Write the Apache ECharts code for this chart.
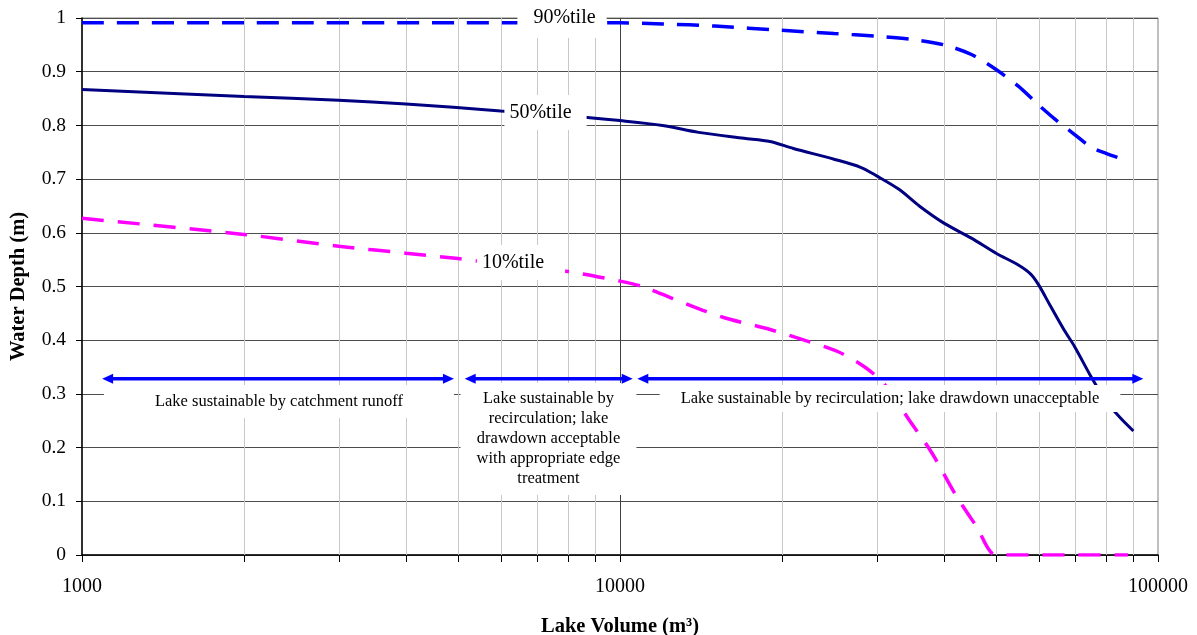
<!DOCTYPE html>
<html><head><meta charset="utf-8">
<script src="https://cdn.jsdelivr.net/npm/echarts@6/dist/echarts.min.js"></script>
<style>html,body{margin:0;padding:0;background:#fff}#c{width:1197px;height:635px}</style>
</head><body><div id="c"></div>
<script>
// ---- data ----
const xMajorTicks = [1000, 10000, 100000];
const xGridValues = [2000,3000,4000,5000,6000,7000,8000,9000,10000,20000,30000,40000,50000,60000,70000,80000,90000];
const yTickLabels = ['0','0.1','0.2','0.3','0.4','0.5','0.6','0.7','0.8','0.9','1'];

const vol90   = [1000,2000,5000,10000,12000,15000,20000,25000,30000,35000,40000,45000,50000,55000,60000,65000,70000,75000,80000,88000];
const depth90 = [0.991,0.991,0.991,0.991,0.989,0.985,0.977,0.971,0.966,0.960,0.950,0.932,0.904,0.873,0.838,0.808,0.783,0.760,0.748,0.734];

const vol50   = [1000,2000,3000,4000,6000,8000,10000,12000,14000,17000,19000,21000,25000,28000,30000,33000,36000,40000,45000,50000,55000,58000,60000,63000,67000,70000,75000,80000,85000,90000];
const depth50 = [0.867,0.854,0.847,0.840,0.827,0.818,0.809,0.800,0.787,0.776,0.770,0.757,0.737,0.722,0.706,0.681,0.650,0.618,0.590,0.562,0.540,0.523,0.503,0.465,0.418,0.388,0.333,0.287,0.256,0.231];

const vol10   = [1000,2000,3000,4000,5000,6000,8000,10000,11000,12500,14500,16000,19000,22000,25500,28500,31000,34500,38000,42000,46000,50000,60000,70000,88000];
const depth10 = [0.627,0.597,0.575,0.562,0.552,0.542,0.528,0.510,0.500,0.478,0.453,0.439,0.420,0.400,0.378,0.350,0.318,0.251,0.190,0.113,0.053,0,0,0,0];

const curveLabelText = ['90%tile','50%tile','10%tile'];
const curveLabelVol  = [7802, 7270, 6546];
const curveLabelDepth= [1.0, 0.824, 0.5447];

const zoneText = ['Lake sustainable by catchment runoff',
  'Lake sustainable by\nrecirculation; lake\ndrawdown acceptable\nwith appropriate edge\ntreatment',
  'Lake sustainable by recirculation; lake drawdown unacceptable'];
const zoneVol   = [2323, 7364, 31760];
const zoneDepth = [0.2858, 0.216, 0.2914];

const arrowFromVol = [1090, 5144, 10770];
const arrowToVol   = [4913, 10560, 93900];
const arrowDepth   = 0.328;

// ---- styles ----
const FONT = '"Liberation Serif", "Times New Roman", serif';
const curveLabelPad = [[8,11,8,16],[5,15,6,5],[5,21,6,5]];
const zonePad = [[3,51,10,51],[5,16,7,16],[3,21,4,21]];

const zip = (a,b) => a.map((v,i)=>[v,b[i]]);

const chart = echarts.init(document.getElementById('c'), null, {renderer:'canvas'});

function textItem(txt, pad, size, lh){
  return function(params, api){
    const i = params.dataIndex;
    const p = api.coord([api.value(0), api.value(1)]);
    return {type:'text', x:p[0], y:p[1], z2:10,
      style:{text:txt[i], font: size + 'px ' + FONT, fill:'#000',
        align:'center', verticalAlign:'middle', textAlign:'center', textVerticalAlign:'middle',
        lineHeight: lh, backgroundColor:'#fff', padding: pad[i]}};
  };
}

const option = {
  animation:false,
  backgroundColor:'#fff',
  grid:{left:82, right:39, top:18, bottom:80, show:true, borderColor:'#808080', borderWidth:1, backgroundColor:'transparent', outerBoundsMode:'none'},
  xAxis:{type:'log', logBase:10, min:xMajorTicks[0], max:xMajorTicks[xMajorTicks.length-1],
    axisLine:{show:true, lineStyle:{color:'#000', width:1.5}},
    axisTick:{show:true, length:7, lineStyle:{color:'#000', width:1}},
    axisLabel:{fontFamily:FONT, fontSize:20, color:'#000', margin:22, formatter: v => String(v)},
    splitLine:{show:false},
    name:'Lake Volume (m³)', nameLocation:'middle', nameGap:61,
    nameTextStyle:{fontFamily:FONT, fontWeight:'bold', fontSize:20.5, color:'#000'}},
  yAxis:{type:'value', min:0, max:1, interval:0.1,
    axisLine:{show:true, lineStyle:{color:'#000', width:1.5}},
    axisTick:{show:true, length:6, lineStyle:{color:'#000'}},
    axisLabel:{fontFamily:FONT, fontSize:19.5, color:'#000', margin:16,
      formatter:(v)=> yTickLabels[Math.round(v*10)]},
    splitLine:{show:true, lineStyle:{color:'#4d4d4d', width:1}},
    name:'Water Depth (m)', nameLocation:'middle', nameGap:53, nameRotate:90,
    nameTextStyle:{fontFamily:FONT, fontWeight:'bold', fontSize:20.5, color:'#000'}},
  series:[
    {type:'custom', z:1, clip:false, silent:true,
      data: xGridValues.map(v=>[v,0]),
      renderItem:(params, api)=>{
        const v = api.value(0);
        const b = api.coord([v,0]), t = api.coord([v,1]);
        const major = Math.abs(Math.log10(v) - Math.round(Math.log10(v))) < 1e-9;
        return {type:'group', children:[
          {type:'line', shape:{x1:Math.round(b[0])+0.5, y1:t[1], x2:Math.round(b[0])+0.5, y2:b[1]}, style:{stroke: major ? '#404040' : '#c8c8c8', lineWidth:1}},
          {type:'line', shape:{x1:Math.round(b[0])+0.5, y1:b[1], x2:Math.round(b[0])+0.5, y2:b[1]+7}, style:{stroke:'#000', lineWidth:1}}
        ]};
      }},
    {type:'line', name:'90%tile', data:zip(vol90, depth90), showSymbol:false, smooth:0.3, z:2,
      lineStyle:{color:'#0000ff', width:3.5, type:[22,13]}},
    {type:'line', name:'50%tile', data:zip(vol50, depth50), showSymbol:false, smooth:0.3, z:2,
      lineStyle:{color:'#000080', width:3}},
    {type:'line', name:'10%tile', data:zip(vol10, depth10), showSymbol:false, smooth:0.3, z:2,
      lineStyle:{color:'#ff00ff', width:3.5, type:[22,14]}},
    {type:'custom', z:5, clip:false, silent:true,
      data: zip(curveLabelVol, curveLabelDepth),
      renderItem: textItem(curveLabelText, curveLabelPad, 20, 24)},
    {type:'custom', z:5, clip:false, silent:true,
      data: zip(zoneVol, zoneDepth),
      renderItem: textItem(zoneText, zonePad, 16.5, 20)},
    {type:'custom', z:6, clip:false, silent:true,
      encode:{x:[0,1], y:2},
      data: arrowFromVol.map((v,i)=>[v, arrowToVol[i], arrowDepth]),
      renderItem:(params, api)=>{
        const a = api.coord([api.value(0), api.value(2)]);
        const b = api.coord([api.value(1), api.value(2)]);
        const L = 11, W = 5, c = '#0000ff';
        return {type:'group', children:[
          {type:'line', shape:{x1:a[0]+L-1, y1:a[1], x2:b[0]-L+1, y2:b[1]}, style:{stroke:c, lineWidth:3.5}},
          {type:'polygon', shape:{points:[[a[0],a[1]],[a[0]+L,a[1]-W],[a[0]+L,a[1]+W]]}, style:{fill:c}},
          {type:'polygon', shape:{points:[[b[0],b[1]],[b[0]-L,b[1]-W],[b[0]-L,b[1]+W]]}, style:{fill:c}}
        ]};
      }}
  ]
};
chart.setOption(option);
</script></body></html>
